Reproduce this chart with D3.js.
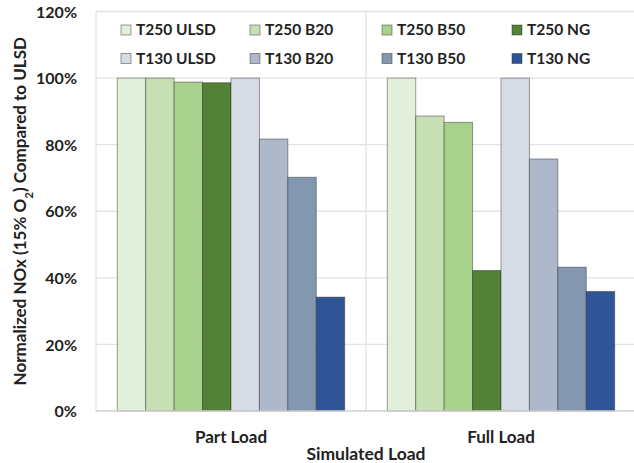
<!DOCTYPE html>
<html><head><meta charset="utf-8">
<script src="https://cdn.jsdelivr.net/npm/d3@7"></script>
<style>body{margin:0;background:#fff}svg{display:block}text{font-family:Lato,"Open Sans",sans-serif;font-weight:bold;fill:#222}</style>
</head><body><svg id="c" width="634" height="463"></svg>
<script>
const categories = ["Part Load", "Full Load"];
const seriesNames = ["T250 ULSD","T250 B20","T250 B50","T250 NG","T130 ULSD","T130 B20","T130 B50","T130 NG"];
const partLoad = [100, 100, 98.8, 98.6, 100, 81.7, 70.2, 34.2];
const fullLoad = [100, 88.6, 86.7, 42.2, 100, 75.7, 43.2, 35.9];
const colors = ["#e2efda","#c6e0b4","#a9d18e","#538135","#d6dce5","#adb9ca","#8497b0","#2f5597"];
const yTicks = [0, 20, 40, 60, 80, 100, 120];

const values = [partLoad, fullLoad];
const svg = d3.select("#c");
const m = {l:96, r:636, t:11.5, b:411};
const x0 = d3.scaleBand().domain(categories).range([m.l, m.r]);
const x1 = d3.scaleBand().domain(seriesNames).range([0, x0.bandwidth()]).paddingOuter(0.75);
const y = d3.scaleLinear().domain([0,120]).range([m.b, m.t]);

// gridlines
svg.append("g").selectAll("line").data(yTicks.filter(d=>d>0)).join("line")
  .attr("x1", m.l).attr("x2", m.r).attr("y1", d=>y(d)).attr("y2", d=>y(d))
  .attr("stroke", "#e3e3e3").attr("stroke-width", 1.3);
// vertical separators
svg.append("g").selectAll("line").data(categories.slice(1)).join("line")
  .attr("x1", d=>x0(d)).attr("x2", d=>x0(d)).attr("y1", m.t).attr("y2", m.b)
  .attr("stroke", "#e3e3e3").attr("stroke-width", 1.3);
svg.append("line").attr("x1", m.l).attr("x2", m.l).attr("y1", m.t).attr("y2", m.b)
  .attr("stroke", "#e3e3e3").attr("stroke-width", 1.3);

// bars
categories.forEach((c, ci) => {
  svg.append("g").selectAll("rect").data(seriesNames).join("rect")
    .attr("x", s => x0(c) + x1(s))
    .attr("width", x1.bandwidth())
    .attr("y", (s,i) => y(values[ci][i]))
    .attr("height", (s,i) => y(0) - y(values[ci][i]))
    .attr("fill", (s,i) => colors[i])
    .attr("stroke", "rgba(40,40,40,0.45)").attr("stroke-width", 1);
});

// x axis line
svg.append("line").attr("x1", m.l).attr("x2", m.r).attr("y1", y(0)).attr("y2", y(0))
  .attr("stroke", "#d0d0d0").attr("stroke-width", 1.3);

// y axis labels
const yAxis = d3.axisLeft(y).tickValues(yTicks).tickFormat(d => d + "%").tickSize(0).tickPadding(0);
const ya = svg.append("g").attr("transform", `translate(${77},0)`).call(yAxis);
ya.select(".domain").remove();
ya.selectAll("text").style("font-size", "16px").attr("fill", "#222").attr("dy", "0.35em");

// x category labels
const xAxis = d3.axisBottom(x0).tickSize(0).tickPadding(0);
const xa = svg.append("g").attr("transform", `translate(0,${437})`).call(xAxis);
xa.select(".domain").remove();
xa.selectAll("text").style("font-size", "17px").attr("fill", "#222").attr("dy", "0.35em");

// axis titles
svg.append("text").attr("x", (m.l + m.r) / 2).attr("y", 454).attr("dy", "0.35em")
  .attr("text-anchor", "middle").style("font-size", "17.5px").text("Simulated Load");
const yt = svg.append("text").attr("transform", `translate(20,${(m.t + m.b) / 2}) rotate(-90)`)
  .attr("text-anchor", "middle").attr("dy", "0.35em").style("font-size", "17px");
yt.append("tspan").text("Normalized NOx (15% O");
yt.append("tspan").attr("baseline-shift", "sub").style("font-size", "11.5px").text("2");
yt.append("tspan").text(") Compared to ULSD");

// legend
const legX = [121, 250, 382, 512];
const legY = [30, 58.5];
const leg = svg.append("g").selectAll("g").data(seriesNames).join("g")
  .attr("transform", (s,i) => `translate(${legX[i % 4]},${legY[Math.floor(i / 4)]})`);
leg.append("rect").attr("x", 0).attr("y", -5).attr("width", 10).attr("height", 10)
  .attr("fill", (s,i) => colors[i]).attr("stroke", "rgba(40,40,40,0.45)").attr("stroke-width", 1);
leg.append("text").attr("x", 15).attr("dy", "0.35em").style("font-size", "15.5px").text(s => s);
</script></body></html>
